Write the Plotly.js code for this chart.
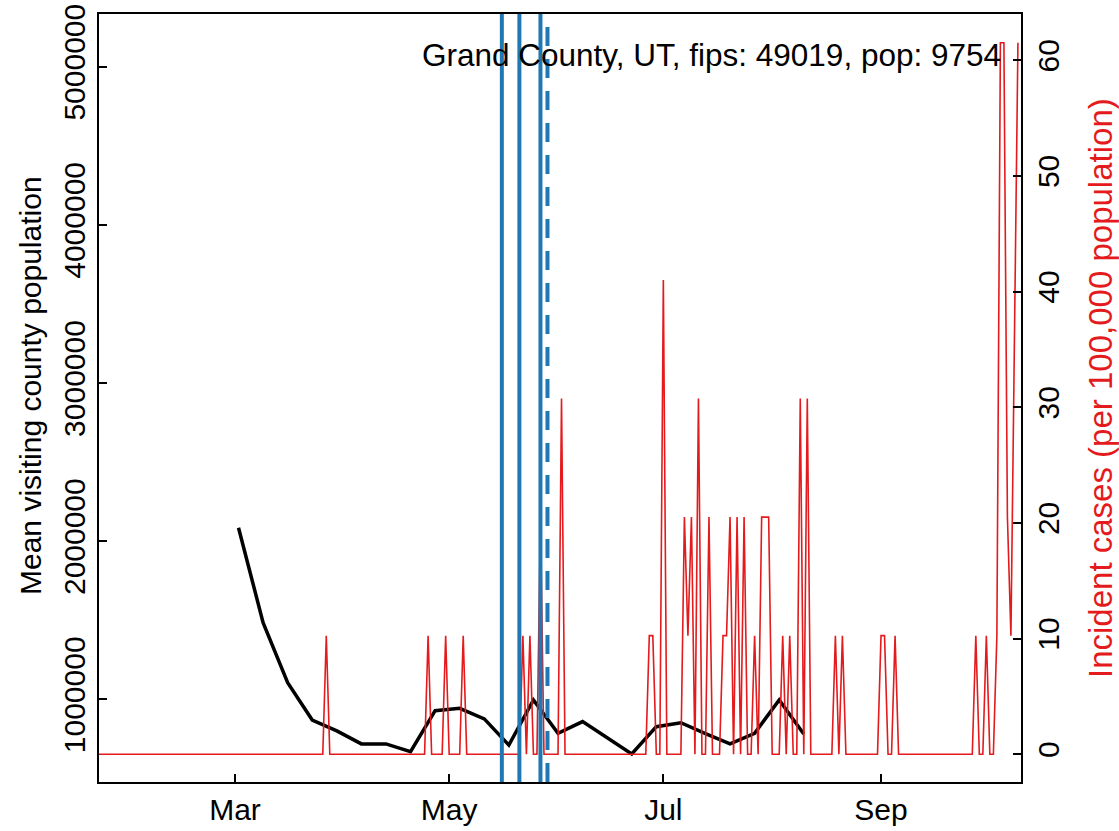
<!DOCTYPE html>
<html><head><meta charset="utf-8">
<script src="https://cdn.plot.ly/plotly-3.0.1.min.js"></script>
<style>html,body{margin:0;padding:0;background:#fff;}#chart{width:1119px;height:831px;}</style>
</head><body><div id="chart"></div>
<script>
// ---- data ----
const mobilityDates = ['2020-03-02','2020-03-09','2020-03-16','2020-03-23','2020-03-30','2020-04-06','2020-04-13','2020-04-20','2020-04-27','2020-05-04','2020-05-11','2020-05-18','2020-05-25','2020-06-01','2020-06-08','2020-06-15','2020-06-22','2020-06-29','2020-07-06','2020-07-13','2020-07-20','2020-07-27','2020-08-03','2020-08-10'];
const mobilityValues = [2085000,1485000,1105000,869000,800000,718000,718000,669000,928000,943000,876000,711000,996000,785000,859000,757000,654000,827000,852000,783000,718000,785000,996000,781000];

// daily incident cases per 100,000 population, starting 2020-01-22
const caseStartDate = '2020-01-22';
const casesJan = [0,0,0,0,0,0,0,0,0,0];
const casesFeb = [0,0,0,0,0,0,0,0,0,0, 0,0,0,0,0,0,0,0,0,0, 0,0,0,0,0,0,0,0,0];
const casesMar = [0,0,0,0,0,0,0,0,0,0, 0,0,0,0,0,0,0,0,0,0, 0,0,0,0,0,0,10.25,0,0,0, 0];
const casesApr = [0,0,0,0,0,0,0,0,0,0, 0,0,0,0,0,0,0,0,0,0, 0,0,0,0,10.25,0,0,0,0,10.25];
const casesMay = [0,0,0,0,10.25,0,0,0,0,0, 0,0,0,0,0,0,0,0,0,0, 0,10.25,0,10.25,0,0,20.5,0,0,0, 0];
const casesJun = [0,30.76,0,0,0,0,0,0,0,0, 0,0,0,0,0,0,0,0,0,0, 0,0,0,0,0,0,10.25,10.25,0,0];
const casesJul = [41.01,0,0,0,0,0,20.5,10.25,20.5,0, 30.76,0,0,20.5,0,0,0,10.25,10.25,20.5, 0,20.5,0,20.5,0,0,10.25,0,20.5,20.5, 20.5];
const casesAug = [0,0,0,10.25,0,10.25,0,0,30.76,0, 30.76,0,0,0,0,0,0,0,10.25,0, 10.25,0,0,0,0,0,0,0,0,0, 0];
const casesSep = [10.25,10.25,0,0,10.25,0,0,0,0,0, 0,0,0,0,0,0,0,0,0,0, 0,0,0,0,0,0,0,10.25,0,0];
const casesOct = [10.25,0,0,10.25,61.51,61.51,20.5,10.25,35.88,61.51];

const interventionDates = ['2020-05-16','2020-05-21','2020-05-27'];
const projectedDate = '2020-05-29';

const xTickVals = ['2020-03-01','2020-05-01','2020-07-01','2020-09-01'];
const xTickText = ['Mar','May','Jul','Sep'];
const leftTickVals = [1000000,2000000,3000000,4000000,5000000];
const rightTickVals = [0,10,20,30,40,50,60];
const countyLabel = 'Grand County, UT, fips: 49019, pop: 9754';
const leftTitle = 'Mean visiting county population';
const rightTitle = 'Incident cases (per 100,000 population)';

// ---- build ----
const caseValues = [].concat(casesJan,casesFeb,casesMar,casesApr,casesMay,casesJun,casesJul,casesAug,casesSep,casesOct);
const start = new Date(caseStartDate + 'T00:00:00Z');
const caseDates = caseValues.map((v,i) => new Date(start.getTime() + i*86400000).toISOString().slice(0,10));

const FONT = 'Liberation Sans, Arial, Helvetica, sans-serif';
const RED = '#E41A1C', BLUE = '#1F78B4';

const traces = [
  {x: mobilityDates, y: mobilityValues, type:'scatter', mode:'lines', line:{color:'#000', width:3.5}, xaxis:'x', yaxis:'y', hoverinfo:'skip'},
  {x: caseDates, y: caseValues, type:'scatter', mode:'lines', line:{color:RED, width:1.6}, xaxis:'x', yaxis:'y2', hoverinfo:'skip'}
];

const shapes = interventionDates.map(d => ({type:'line', xref:'x', yref:'paper', x0:d, x1:d, y0:0, y1:1, line:{color:BLUE, width:4}, layer:'above'}));
shapes.push({type:'line', xref:'x', yref:'paper', x0:projectedDate, x1:projectedDate, y0:0, y1:1, line:{color:BLUE, width:4, dash:'19px,13px'}, layer:'above'});

const layout = {
  width:1119, height:831,
  margin:{l:99, r:98, t:14, b:49, pad:0},
  paper_bgcolor:'#fff', plot_bgcolor:'#fff',
  showlegend:false,
  font:{family:FONT, size:30, color:'#000'},
  xaxis:{type:'date', range:['2020-01-22 06:19:00','2020-10-10 20:53:00'], tickvals:xTickVals, ticktext:xTickText,
    ticks:'inside', ticklen:8, tickwidth:2, tickcolor:'#000', showline:true, linecolor:'#000', linewidth:2, mirror:true,
    showgrid:false, zeroline:false, tickfont:{size:30, family:FONT}, fixedrange:true},
  yaxis:{range:[477100,5333200], tickvals:leftTickVals, ticktext:leftTickVals.map(String), tickangle:-90,
    ticks:'inside', ticklen:8, tickwidth:2, tickcolor:'#000', showline:true, linecolor:'#000', linewidth:2, mirror:true,
    showgrid:false, zeroline:false, tickfont:{size:30, family:FONT}, fixedrange:true},
  yaxis2:{overlaying:'y', side:'right', range:[-2.404,64.0], tickvals:rightTickVals, tickangle:-90,
    ticks:'inside', ticklen:8, tickwidth:2, tickcolor:'#000', showline:true, linecolor:'#000', linewidth:2,
    showgrid:false, zeroline:false, tickfont:{size:30, family:FONT}, fixedrange:true},
  shapes: shapes,
  annotations:[
    {xref:'paper', yref:'paper', x:(1003-99)/922, y:(782-55)/768, xanchor:'right', yanchor:'middle',
     text:countyLabel, showarrow:false, font:{size:31.5, family:FONT, color:'#000'}},
    {xref:'paper', yref:'paper', x:(30-99)/922, y:(782-386)/768, xanchor:'center', yanchor:'middle', textangle:-90,
     text:leftTitle, showarrow:false, font:{size:30, family:FONT, color:'#000'}},
    {xref:'paper', yref:'paper', x:(1100-99)/922, y:(782-388)/768, xanchor:'center', yanchor:'middle', textangle:-90,
     text:rightTitle, showarrow:false, font:{size:33, family:FONT, color:RED}}
  ]
};

Plotly.newPlot('chart', traces, layout, {displayModeBar:false, staticPlot:true});
</script></body></html>
